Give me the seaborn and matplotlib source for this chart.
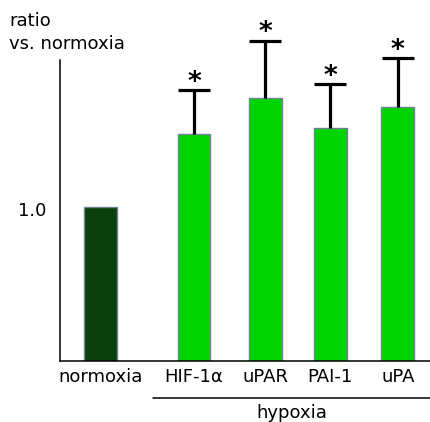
import numpy as np
import pandas as pd
import matplotlib
matplotlib.use('Agg')
import matplotlib.pyplot as plt
import matplotlib.transforms as mtrans
import seaborn as sns

# data
labels = ['normoxia', 'HIF-1\u03b1', 'uPAR', 'PAI-1', 'uPA']
ratios = [1.01, 1.49, 1.73, 1.53, 1.67]
err_up = [0.0, 0.29, 0.375, 0.29, 0.32]
signif = [False, True, True, True, True]

# layout (uneven bar spacing in the original)
xpos = [0.0, 1.39, 2.45, 3.42, 4.43]
bar_colors = ['#0a3f0a', '#00d400', '#00d400', '#00d400', '#00d400']

sns.set_theme(style="white")
plt.rcParams['font.family'] = ['DejaVu Sans']
plt.rcParams['text.color'] = 'black'
plt.rcParams['xtick.color'] = 'black'
plt.rcParams['ytick.color'] = 'black'

df = pd.DataFrame({'label': labels, 'ratio': ratios, 'x': xpos})

fig = plt.figure(figsize=(4.31, 4.22), dpi=100)
ax = fig.add_axes([60 / 431, 61 / 422, 371 / 431, 301 / 422])

sns.barplot(data=df, x='x', y='ratio', hue='label', hue_order=labels,
            palette=dict(zip(labels, bar_colors)), native_scale=True,
            width=0.505, dodge=False, legend=False, errorbar=None,
            saturation=1, edgecolor='#6f8296', linewidth=1.0, ax=ax)

# upper error bars for the hypoxia bars only
hx = [x for x, e in zip(xpos, err_up) if e > 0]
hy = [r for r, e in zip(ratios, err_up) if e > 0]
he = [e for e in err_up if e > 0]
eb = ax.errorbar(hx, hy, yerr=[[0] * len(he), he], fmt='none', ecolor='black',
                 elinewidth=2.3, capsize=11.5, capthick=2.3, clip_on=False,
                 zorder=3)
# hide the cap sitting on the bar top (lower error is zero)
for cap in eb[1]:
    if np.allclose(cap.get_ydata(), hy):
        cap.set_visible(False)

for x, r, e, s in zip(xpos, ratios, err_up, signif):
    if s:
        ax.text(x, r + e + 0.005, '*', ha='center', va='baseline', fontsize=19,
                fontweight='bold', clip_on=False)

ax.set_xlim(-0.61, 4.925)
ax.set_ylim(0, 1.98)
ax.set_yticks([1.0])
ax.set_yticklabels(['1.0'])
ax.set_xticks(xpos)
ax.set_xticklabels(labels)
ax.tick_params(axis='y', direction='in', length=12.5, width=1.1, labelsize=13,
               pad=10)
ax.tick_params(axis='x', length=0, labelsize=13, pad=5)
ax.set_xlabel('')
ax.set_ylabel('')

for side in ['top', 'right']:
    ax.spines[side].set_visible(False)
for side in ['left', 'bottom']:
    ax.spines[side].set_color('black')
    ax.spines[side].set_linewidth(1.1)

# hypoxia bracket under the four treated bars
trans = mtrans.blended_transform_factory(ax.transData, ax.transAxes)
ax.plot([0.78, 4.925], [-0.123, -0.123], color='black', lw=1.1,
        transform=trans, clip_on=False)
ax.text((0.78 + 4.925) / 2, -0.173, 'hypoxia', transform=trans,
        ha='center', va='center', fontsize=13)

fig.text(9 / 431, 1 - 12 / 422, 'ratio\nvs. normoxia', ha='left', va='top',
         fontsize=13, linespacing=1.35)

fig.savefig('out.png', dpi=100)
